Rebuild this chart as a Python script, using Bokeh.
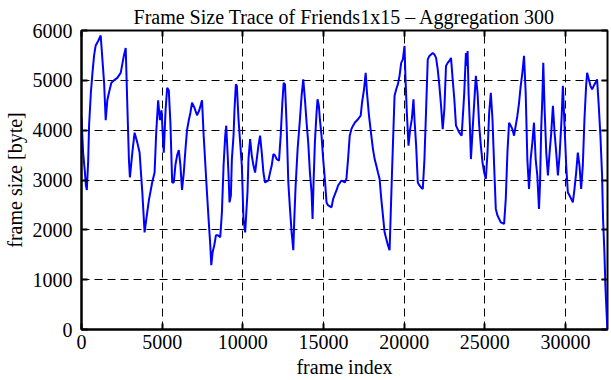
from bokeh.plotting import figure
from bokeh.models import LinearAxis, FixedTicker, Range1d, CustomLabelingPolicy
from bokeh.embed import file_html
from bokeh.resources import INLINE

title_text = "Frame Size Trace of Friends1x15 \u2013 Aggregation 300"
x_label = "frame index"
y_label = "frame size [byte]"
x_ticks = [0, 5000, 10000, 15000, 20000, 25000, 30000]
y_ticks = [0, 1000, 2000, 3000, 4000, 5000, 6000]

frame_index = [
    0, 100, 200, 270, 330, 410, 470, 580, 680, 780, 880, 1050, 1190, 1300, 1400, 1500,
    1600, 1700, 1850, 2020, 2220, 2430, 2630, 2740, 2840, 2940, 3000, 3150, 3290, 3460,
    3600, 3770, 3910, 4010, 4180, 4380, 4530, 4630, 4750, 4860, 4960, 5040, 5100, 5210,
    5310, 5410, 5510, 5620, 5720, 5820, 5930, 6030, 6130, 6230, 6340, 6440, 6540, 6650,
    6750, 6850, 7000, 7160, 7300, 7470, 7570,
    7776, 7879, 7982, 8043, 8126, 8229, 8332, 8455, 8599, 8702, 8805, 8908, 8970, 9052,
    9114, 9175, 9258, 9320, 9422, 9484, 9566, 9628, 9731, 9834, 9937, 10040, 10143, 10287,
    10349, 10451, 10554, 10657, 10760, 10863, 10966, 11069, 11172, 11275, 11377, 11583,
    11686, 11789, 11892, 11995, 12098, 12242, 12345, 12448, 12530, 12612, 12715, 12818,
    12921, 13024, 13127, 13189, 13271, 13394, 13538, 13641, 13744, 13847, 13950, 14053,
    14156, 14259, 14320, 14382, 14464, 14567, 14629, 14711, 14773, 14876, 14979, 15082,
    15185, 15288, 15494, 15596,
    15801, 15904, 16110, 16315, 16418, 16521, 16624, 16727, 16830, 16933, 17139, 17303,
    17386, 17509, 17612, 17694, 17818, 17962, 18065, 18168, 18271, 18373, 18476, 18579,
    18682, 18785, 18888, 18991, 19094, 19155, 19238, 19320, 19402, 19505, 19608, 19711,
    19814, 19917, 20020, 20082, 20164, 20267, 20370, 20473, 20575, 20637, 20740, 20843,
    20946, 21049, 21152, 21255, 21358, 21460, 21563, 21666, 21769, 21872, 21975, 22078,
    22181, 22284, 22387, 22489, 22592, 22695, 22798, 22901, 23004, 23107, 23210, 23313,
    23416, 23560, 23662,
    23722, 23825, 23887, 23928, 23990, 24072, 24134, 24195, 24278, 24339, 24442, 24545,
    24648, 24751, 24854, 24957, 25060, 25163, 25266, 25368, 25471, 25574, 25677, 25780,
    25883, 25986, 26192, 26295, 26397, 26500, 26603, 26706, 26809, 26912, 27015, 27118,
    27221, 27324, 27426, 27529, 27632, 27735, 27838, 27941, 28044, 28147, 28250, 28353,
    28414, 28497, 28558, 28620, 28702, 28805, 28908, 29011, 29114, 29217, 29320, 29423,
    29526, 29629, 29752, 29834, 29937, 30040, 30143, 30246, 30349, 30452, 30555, 30658,
    30761, 30864, 30967, 31070, 31172, 31275, 31337, 31440, 31543, 31646, 31749, 31852,
    31955, 32058, 32161, 32264, 32325, 32408, 32469, 32531, 32593,
]

frame_size = [
    4250, 3550, 3200, 2900, 2800, 3350, 4100, 4750, 5150, 5500, 5700, 5800, 5900, 5400, 4950, 4200,
    4600, 4750, 4950, 5000, 5050, 5150, 5500, 5650, 4500, 3400, 3050, 3550, 3950, 3750,
    3550, 2750, 1950, 2200, 2600, 2950, 3150, 3950, 4600, 4200, 4400, 3900, 3550, 4400,
    4850, 4800, 4150, 2950, 2950, 3300, 3500, 3600, 3300, 2800, 3150, 3600, 4000, 4200,
    4350, 4550, 4450, 4300, 4400, 4600, 3900,
    2750, 2200, 1690, 1290, 1550, 1690, 1890, 1890, 1850, 2350, 3290, 3890, 4090, 3550,
    3090, 2550, 2690, 3420, 3890, 4420, 4920, 4890, 4220, 3750, 3290, 2220, 1950, 2750,
    3420, 3820, 3490, 3290, 3150, 3420, 3690, 3890, 3550, 3150, 2950, 2990,
    3150, 3290, 3520, 3490, 3420, 3390, 3890, 4550, 4950, 4920, 4090, 2950,
    2420, 1950, 1590, 2220, 2890, 3620, 4220, 4690, 5020, 4620, 4150, 3750,
    3150, 2750, 2220, 2950, 3750, 4350, 4620, 4490, 4220, 3890, 3420, 3020,
    2550, 2490, 2450, 2620,
    2790, 2890, 2990, 2950, 3020, 3420, 3890, 4020, 4090, 4150, 4220, 4290,
    4550, 4820, 5150, 4750, 4290, 3890, 3620, 3420, 3290, 3150, 3020, 2620,
    2290, 1950, 1820, 1690, 1590, 2220, 3090, 3890, 4690, 4820, 4920, 5090,
    5350, 5420, 5690, 5020, 4350, 3690, 4020, 4220, 4620, 4220, 3690, 2950,
    2890, 2850, 2820, 3420, 4420, 5420, 5490, 5520, 5550, 5520, 5450, 5220,
    4890, 4490, 4020, 4420, 5290, 5350, 5390, 5450, 5020, 4620, 4090, 4020,
    3950, 3890, 4420,
    4750, 5550, 5290, 5590, 4750, 4090, 3420, 3750, 4220, 4550, 5090, 4750,
    4090, 3690, 3350, 3150, 3020, 3550, 4350, 4750, 4220, 3290, 2420, 2290,
    2220, 2150, 2120, 2620, 3550, 4150, 4090, 4020, 3890, 4090, 4290, 4550,
    4890, 5150, 5490, 4750, 3420, 2820, 3420, 3750, 4150, 3420, 3090, 2420,
    2890, 4090, 4620, 5350, 4420, 3550, 3090, 3550, 3950, 4490, 3950, 3550,
    3090, 3490, 4220, 4890, 4090, 3290, 2750, 2690, 2620, 2550, 2820, 3150,
    3550, 3290, 2820, 3290, 4220, 4890, 5150, 5020, 4890, 4820, 4890, 4950,
    5020, 4490, 3890, 3090, 2220, 1550, 890, 420, 0,
]

FONT = "Liberation Serif"
FS = "20px"

p = figure(width=611, height=380, output_backend="svg", toolbar_location=None,
           x_range=Range1d(0, 32600), y_range=Range1d(0, 6000),
           min_border_left=80, min_border_right=4, min_border_top=30, min_border_bottom=51,
           background_fill_color="white", border_fill_color="white")

p.line(frame_index, frame_size, line_color="#0000ff", line_width=2)

p.title.text = title_text
p.title.text_font = FONT
p.title.text_font_size = FS
p.title.text_font_style = "normal"
p.title.text_color = "black"
p.title.align = "center"
p.title.vertical_align = "top"
p.title.standoff = 2

p.xaxis.ticker = FixedTicker(ticks=x_ticks)
p.yaxis.ticker = FixedTicker(ticks=y_ticks)
p.xaxis.axis_label = x_label
p.yaxis.axis_label = y_label

for ax in (p.xaxis[0], p.yaxis[0]):
    ax.axis_line_color = "black"
    ax.axis_line_width = 2
    ax.major_tick_in = 6
    ax.major_tick_out = 0
    ax.major_tick_line_width = 2
    ax.major_tick_line_color = "black"
    ax.minor_tick_line_color = None
    ax.major_label_text_font = FONT
    ax.major_label_text_font_size = FS
    ax.major_label_text_color = "black"
    ax.axis_label_text_font = FONT
    ax.axis_label_text_font_size = FS
    ax.axis_label_text_font_style = "normal"
    ax.axis_label_text_color = "black"

p.xaxis.major_label_standoff = 5
p.xaxis.axis_label_standoff = 4
p.yaxis.major_label_standoff = 9
p.yaxis.axis_label_standoff = 4

no_labels = CustomLabelingPolicy(code="for (const i of indices) { indices.unset(i) }\nreturn indices")

for loc, ticks in (("right", y_ticks), ("above", x_ticks)):
    ax = LinearAxis(ticker=FixedTicker(ticks=ticks))
    ax.major_label_policy = no_labels
    ax.major_label_text_font_size = "0px"
    ax.major_label_standoff = 0
    ax.major_tick_in = 6
    ax.major_tick_out = 0
    ax.major_tick_line_width = 2
    ax.major_tick_line_color = "black"
    ax.minor_tick_line_color = None
    ax.axis_line_color = None
    p.add_layout(ax, loc)

p.grid.grid_line_color = "black"
p.grid.grid_line_dash = "8 5"
p.grid.grid_line_width = 1

p.outline_line_color = "black"
p.outline_line_width = 2
p.outline_line_alpha = 1

open("out.html", "w").write(file_html(p, INLINE))
